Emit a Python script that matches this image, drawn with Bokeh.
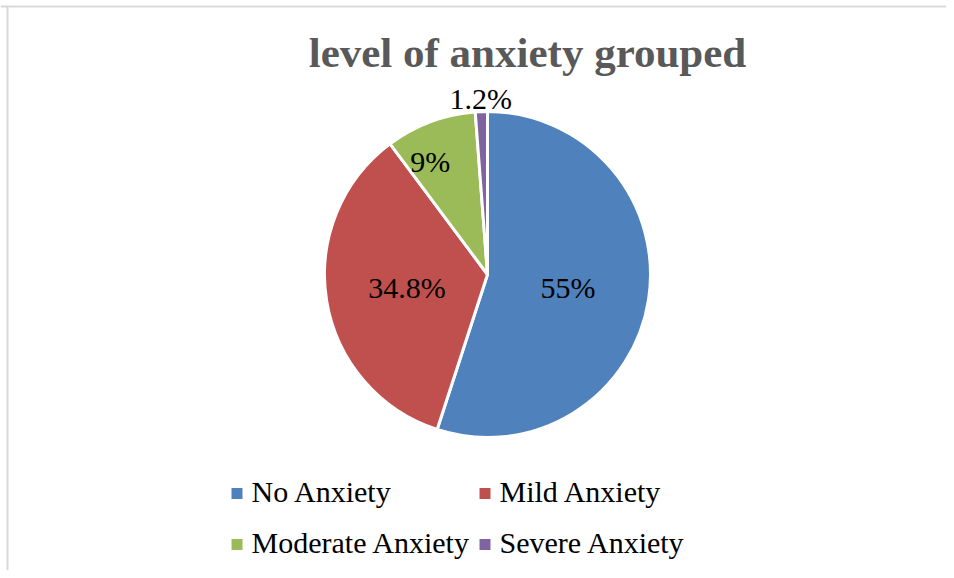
import math
from bokeh.plotting import figure
from bokeh.models import Range1d, ColumnDataSource
from bokeh.core.properties import value
from bokeh.embed import file_html
from bokeh.resources import INLINE

# ---- data ----
categories = ["No Anxiety", "Mild Anxiety", "Moderate Anxiety", "Severe Anxiety"]
percents = [55, 34.8, 9, 1.2]
labels = ["55%", "34.8%", "9%", "1.2%"]
colors = ["#4f81bd", "#c0504d", "#9bbb59", "#8064a2"]
title_text = "level of anxiety grouped"

# ---- layout (window pixels; y measured from the top of the window) ----
W, H = 946, 570
FONT = "Liberation Serif"
def Y(ys):
    return H - ys

cx, cy, R = 487, Y(274), 163
label_r = [0.5, 0.5, 0.78, 1.08]
label_shift = [0, 0, 0.11, 0]

p = figure(width=W, height=H, output_backend="svg", toolbar_location=None,
           x_range=Range1d(0, W), y_range=Range1d(0, H), min_border=0)
p.axis.visible = False
p.grid.visible = False
p.outline_line_color = None
p.background_fill_color = "white"

# frame (top & left edges visible)
p.segment(x0=[0, 7], y0=[Y(6), Y(6)], x1=[W, 7], y1=[Y(6), 0],
          line_color="#d9d9d9", line_width=2)

# wedges
total = sum(percents)
starts, ends, lx, ly = [], [], [], []
cum = 0.0
for i, v in enumerate(percents):
    a0 = math.pi / 2 - 2 * math.pi * cum / total
    cum += v
    a1 = math.pi / 2 - 2 * math.pi * cum / total
    starts.append(a0)
    ends.append(a1)
    mid = (a0 + a1) / 2 + label_shift[i]
    lx.append(cx + R * label_r[i] * math.cos(mid))
    ly.append(cy + R * label_r[i] * math.sin(mid))

src = ColumnDataSource(dict(start=starts, end=ends, color=colors, cat=categories))
p.wedge(x=cx, y=cy, radius=R, radius_units="screen", start_angle="start",
        end_angle="end", direction="clock", fill_color="color",
        line_color="white", line_width=3, source=src)

lab_src = ColumnDataSource(dict(x=lx, y=ly, text=labels))
p.text(x="x", y="y", text="text", source=lab_src, text_font=value(FONT),
       text_font_size="30px", text_align="center", text_baseline="middle",
       text_color="black")

# title
p.text(x=[527], y=[Y(52)], text=[title_text], text_font=value(FONT),
       text_font_size="43px", text_font_style="bold", text_color="#595959",
       text_align="center", text_baseline="middle")

# legend
leg_x = [231, 479, 231, 479]
leg_y = [493, 493, 544, 544]
p.rect(x=[x + 5.5 for x in leg_x], y=[Y(y) for y in leg_y], width=11, height=11,
       width_units="screen", height_units="screen", fill_color=colors, line_color=None)
p.text(x=[x + 20 for x in leg_x], y=[Y(y - 2) for y in leg_y], text=categories,
       text_font=value(FONT), text_font_size="30px", text_color="black",
       text_align="left", text_baseline="middle")

open("out.html", "w").write(file_html(p, INLINE))
